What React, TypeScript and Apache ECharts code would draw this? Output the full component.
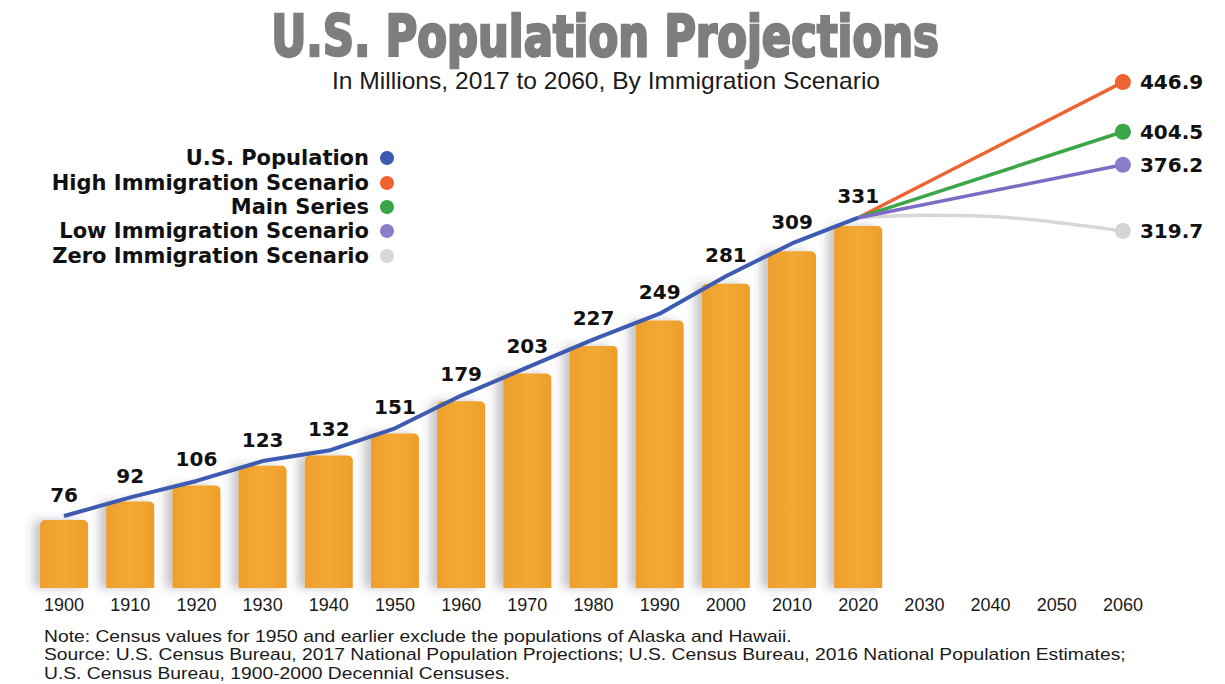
import React, { useEffect, useRef } from "react";
import * as echarts from "echarts";

const years = ["1900", "1910", "1920", "1930", "1940", "1950", "1960", "1970", "1980", "1990", "2000", "2010", "2020", "2030", "2040", "2050", "2060"];
const population = [76, 92, 106, 123, 132, 151, 179, 203, 227, 249, 281, 309, 331];
const highScenario = [331, null, null, null, 446.9];
const mainSeries = [331, null, null, null, 404.5];
const lowScenario = [331, null, null, null, 376.2];
const zeroScenario = [331, 333, 332, 327, 319.7];

const FONT = '"Liberation Sans", Arial, Helvetica, sans-serif';
const WIDE_BOLD = '"DejaVu Sans", "Liberation Sans", Arial, sans-serif';

const padHistory = (arr: (number | null)[]) => {
  const lead = new Array(population.length - 1).fill(null);
  return [...lead, ...arr];
};

const projectionData = (arr: (number | null)[], markerColor: string) =>
  padHistory(arr).map((v, i, all) =>
    i === all.length - 1
      ? {
          value: v,
          symbol: "circle",
          symbolSize: 16,
          itemStyle: { color: markerColor },
          label: {
            show: true,
            position: "right",
            distance: 9,
            formatter: (p: any) => Number(p.value).toFixed(1),
            color: "#111",
            fontFamily: WIDE_BOLD,
            fontWeight: "bold",
            fontSize: 20,
          },
        }
      : { value: v, symbol: "none" }
  );

const legendItem = (name: string, centerY: number) => ({
  data: [name],
  right: 1225 - 394,
  top: centerY - 12,
  align: "right",
  orient: "vertical",
  icon: "circle",
  itemWidth: 14,
  itemHeight: 14,
  selectedMode: false,
  padding: 0,
  textStyle: {
    fontFamily: WIDE_BOLD,
    fontWeight: "bold",
    fontSize: 21,
    color: "#111",
    lineHeight: 24,
    padding: [0, 6, 0, 0],
  },
});

export default function App() {
  const ref = useRef<HTMLDivElement>(null);
  useEffect(() => {
    if (!ref.current) return;
    const chart = echarts.init(ref.current, undefined, { renderer: "svg" });
    const option: any = {
      animation: false,
      backgroundColor: "#ffffff",
      grid: { left: 31, right: 69, top: 60, bottom: 96, containLabel: false },
      legend: [
        legendItem("U.S. Population", 158),
        legendItem("High Immigration Scenario", 183),
        legendItem("Main Series", 207),
        legendItem("Low Immigration Scenario", 231),
        legendItem("Zero Immigration Scenario", 256),
      ],
      xAxis: {
        type: "category",
        data: years,
        boundaryGap: true,
        axisLine: { show: false },
        axisTick: { show: false },
        axisLabel: { color: "#1a1a1a", fontSize: 18, fontFamily: FONT, margin: 8 },
      },
      yAxis: [
        { type: "value", min: 17, max: 475, show: false, splitLine: { show: false } },
        { type: "value", min: 14.5, max: 465.8, show: false, splitLine: { show: false } },
      ],
      graphic: [
        {
          type: "text",
          x: 605,
          y: 36,
          scaleX: 0.845,
          style: {
            text: "U.S. Population Projections",
            font: 'bold 57px "DejaVu Sans Condensed", "DejaVu Sans", sans-serif',
            fill: "#7e7e7e",
            stroke: "#7e7e7e",
            lineWidth: 2.5,
            textAlign: "center",
            textVerticalAlign: "middle",
            shadowColor: "rgba(0,0,0,0.2)",
            shadowBlur: 3,
            shadowOffsetX: 1,
            shadowOffsetY: 1,
          },
        },
        {
          type: "text",
          x: 606,
          y: 81,
          scaleX: 1.07,
          style: {
            text: "In Millions, 2017 to 2060, By Immigration Scenario",
            font: `23px ${FONT}`,
            fill: "#1a1a1a",
            textAlign: "center",
            textVerticalAlign: "middle",
          },
        },
        {
          type: "text",
          x: 44,
          y: 627,
          scaleX: 1.205,
          style: {
            text:
              "Note: Census values for 1950 and earlier exclude the populations of Alaska and Hawaii.\nSource: U.S. Census Bureau, 2017 National Population Projections; U.S. Census Bureau, 2016 National Population Estimates;\nU.S. Census Bureau, 1900-2000 Decennial Censuses.",
            font: `16px ${FONT}`,
            lineHeight: 18.5,
            fill: "#1a1a1a",
            textAlign: "left",
            textVerticalAlign: "top",
          },
        },
      ],
      series: [
        {
          name: "Population bars",
          type: "bar",
          yAxisIndex: 0,
          barWidth: 48,
          data: population,
          itemStyle: {
            color: {
              type: "linear",
              x: 0,
              y: 0,
              x2: 1,
              y2: 0,
              colorStops: [
                { offset: 0, color: "#EE9F2C" },
                { offset: 0.5, color: "#F3A935" },
                { offset: 1, color: "#EE9E2A" },
              ],
            },
            borderRadius: [5, 5, 0, 0],
            shadowColor: "rgba(60,60,80,0.3)",
            shadowBlur: 10,
            shadowOffsetX: -7,
            shadowOffsetY: 0,
          },
          z: 1,
        },
        {
          name: "U.S. Population",
          type: "line",
          yAxisIndex: 1,
          data: population,
          symbol: "circle",
          symbolSize: 1,
          showSymbol: true,
          lineStyle: { color: "#3D5BB0", width: 4 },
          itemStyle: { color: "#3D5BB0" },
          label: {
            show: true,
            position: "top",
            distance: 11,
            color: "#111",
            fontFamily: WIDE_BOLD,
            fontWeight: "bold",
            fontSize: 20,
          },
          z: 5,
        },
        {
          name: "High Immigration Scenario",
          type: "line",
          yAxisIndex: 1,
          connectNulls: true,
          data: projectionData(highScenario, "#EE6330"),
          lineStyle: { color: "#EE6330", width: 3.5 },
          itemStyle: { color: "#EE6330" },
          z: 4,
        },
        {
          name: "Main Series",
          type: "line",
          yAxisIndex: 1,
          connectNulls: true,
          data: projectionData(mainSeries, "#3AA648"),
          lineStyle: { color: "#3AA648", width: 3.5 },
          itemStyle: { color: "#3AA648" },
          z: 4,
        },
        {
          name: "Low Immigration Scenario",
          type: "line",
          yAxisIndex: 1,
          connectNulls: true,
          data: projectionData(lowScenario, "#8C7DCC"),
          lineStyle: { color: "#7E6CC4", width: 3.5 },
          itemStyle: { color: "#8C7DCC" },
          z: 4,
        },
        {
          name: "Zero Immigration Scenario",
          type: "line",
          yAxisIndex: 1,
          smooth: 0.3,
          data: projectionData(zeroScenario, "#D3D6D3"),
          lineStyle: { color: "#D6D8D6", width: 3.5 },
          itemStyle: { color: "#D6D8D6" },
          z: 3,
        },
      ],
    };
    chart.setOption(option);
    return () => chart.dispose();
  }, []);
  return (
    <div
      ref={ref}
      style={{ position: "fixed", left: 0, top: 0, width: 1225, height: 684, background: "#fff" }}
    />
  );
}
